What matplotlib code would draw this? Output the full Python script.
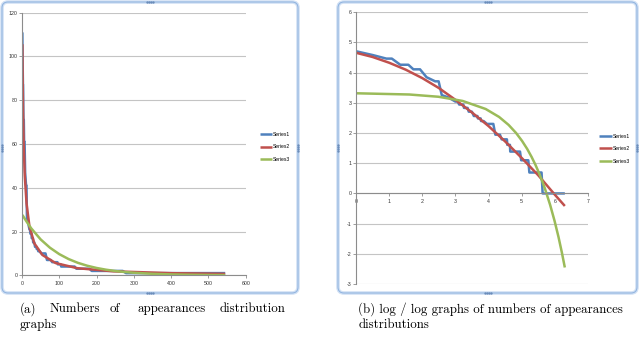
import numpy as np
import matplotlib
matplotlib.use("Agg")
import matplotlib.pyplot as plt
from matplotlib.patches import FancyBboxPatch

plt.rcParams["font.family"] = ["Liberation Sans", "DejaVu Sans"]
plt.rcParams["axes.unicode_minus"] = False

# Series1: observed appearance counts (stepped), Series2 / Series3: fitted curves
s1_x = [1, 1.65, 2.5, 2.95, 3.8, 4.85, 5.65, 6.9, 8.4, 10.9, 12.1, 13.3, 16.3,
        20, 21.5, 22.5, 25.5, 26, 29, 30, 33, 35, 39, 39.5, 43, 43.5, 47,
        52, 63, 67, 77, 81, 95, 96, 104, 105, 141, 146, 181, 187, 270, 279, 545]
s1_y = [111, 98, 87, 87, 71, 71, 61, 61, 47, 41, 41, 26, 24,
        21, 21, 19, 19, 17, 17, 15, 15, 13, 13, 12, 12, 11, 11,
        10, 10, 7, 7, 6, 6, 5, 5, 4, 4, 3, 3, 2, 2, 1, 1]

s2_x = [1, 1.65, 2.72, 4.48, 7.39, 12.2, 20.1, 33.1, 54.6, 90, 148, 245, 403, 545]
s2_y = [105.6, 91.8, 75.9, 60.3, 45.6, 32.8, 22.2, 14.6, 9.3, 5.6, 3.25, 1.82, 0.96, 0.66]

s3_x = [1, 5, 12, 25, 50, 75, 100, 125, 150, 175, 200, 225, 250, 275, 300,
        350, 400, 450, 500, 545]
s3_y = [27.6, 26.5, 24.6, 21.4, 16.4, 12.6, 9.67, 7.42, 5.69, 4.37, 3.35, 2.57,
        1.97, 1.51, 1.16, 0.683, 0.402, 0.237, 0.139, 0.086]

series_names = ["Series1", "Series2", "Series3"]
colors = ["#4f81bd", "#c0504d", "#9bbb59"]

lin_xticks = [0, 100, 200, 300, 400, 500, 600]
lin_yticks = [0, 20, 40, 60, 80, 100, 120]
log_xticks = [0, 1, 2, 3, 4, 5, 6, 7]
log_yticks = [-3, -2, -1, 0, 1, 2, 3, 4, 5, 6]

W, H = 640, 349
fig = plt.figure(figsize=(6.4, 3.49), dpi=100)

# pixel-space overlay for frames and captions
bg = fig.add_axes([0, 0, 1, 1])
bg.set_xlim(0, W)
bg.set_ylim(H, 0)
bg.axis("off")


def frame(x0, y0, x1, y1):
    for lw, c in [(2.6, "#d2e1f4"), (0.8, "#93b5e0")]:
        bg.add_patch(FancyBboxPatch((x0, y0), x1 - x0, y1 - y0,
                                    boxstyle="round,pad=0,rounding_size=6",
                                    fc="none", ec=c, lw=lw))
    xm, ym = (x0 + x1) / 2, (y0 + y1) / 2
    for hx, hy in [(xm, y0), (xm, y1)]:
        bg.plot([hx - 3, hx - 1, hx + 1, hx + 3], [hy] * 4, ls="none",
                marker="o", ms=0.7, color="#6a8cba")
    for hx, hy in [(x0, ym), (x1, ym)]:
        bg.plot([hx] * 4, [hy - 3, hy - 1, hy + 1, hy + 3], ls="none",
                marker="o", ms=0.7, color="#6a8cba")


def px_axes(x0, y0, x1, y1):
    return fig.add_axes([x0 / W, 1 - y1 / H, (x1 - x0) / W, (y1 - y0) / H])


def style(ax):
    for s in ["top", "right"]:
        ax.spines[s].set_visible(False)
    for s in ["left", "bottom"]:
        ax.spines[s].set_color("#8c8c8c")
        ax.spines[s].set_linewidth(0.8)
    ax.grid(axis="y", color="#c4c4c4", lw=0.8)
    ax.set_axisbelow(True)
    ax.tick_params(labelsize=3.8, length=2, width=0.6, color="#8c8c8c",
                   labelcolor="#333333")
    ax.tick_params(axis="y", pad=1)
    ax.tick_params(axis="x", pad=2)


frame(2, 2, 298, 293)
frame(338, 2, 637, 293)

# (a) linear
ax1 = px_axes(22, 12.7, 245.7, 275.3)
style(ax1)
for xs, ys, c in zip([s1_x, s2_x, s3_x], [s1_y, s2_y, s3_y], colors):
    ax1.plot(xs, ys, color=c, lw=1.8, solid_capstyle="butt")
ax1.set_xlim(0, 600)
ax1.set_ylim(0, 120)
ax1.set_xticks(lin_xticks)
ax1.set_yticks(lin_yticks)
ax1.legend(series_names, loc="center left", bbox_to_anchor=(1.0625, 0.489),
           frameon=False, fontsize=3.6, handlelength=2.5, handletextpad=0.1,
           labelspacing=1.5, borderpad=0, borderaxespad=0)

# (b) log / log
ax2 = px_axes(356, 12.3, 588, 284)
style(ax2)
for xs, ys, c in zip([s1_x, s2_x, s3_x], [s1_y, s2_y, s3_y], colors):
    ax2.plot(np.log(xs), np.log(ys), color=c, lw=1.8, solid_capstyle="butt")
ax2.set_xlim(0, 7)
ax2.set_ylim(-3, 6)
ax2.set_xticks(log_xticks)
ax2.set_yticks(log_yticks)
ax2.spines["bottom"].set_position(("data", 0))
ax2.legend(series_names, loc="center left", bbox_to_anchor=(1.049, 0.498),
           frameon=False, fontsize=3.6, handlelength=2.5, handletextpad=0.1,
           labelspacing=1.5, borderpad=0, borderaxespad=0)

# captions
cap = dict(family="cmr10", fontsize=9.3, va="center", ha="left", color="black")
for word, x in [("(a)", 20), ("Numbers", 49.3), ("of", 110),
                ("appearances", 137), ("distribution", 219.3)]:
    bg.text(x, 309.3, word, **cap)
bg.text(20, 325.3, "graphs", **cap)
bg.text(358.3, 309.3, "(b) log / log graphs of numbers of appearances", **cap)
bg.text(358.3, 325.3, "distributions", **cap)

fig.savefig("out.png", dpi=100)
